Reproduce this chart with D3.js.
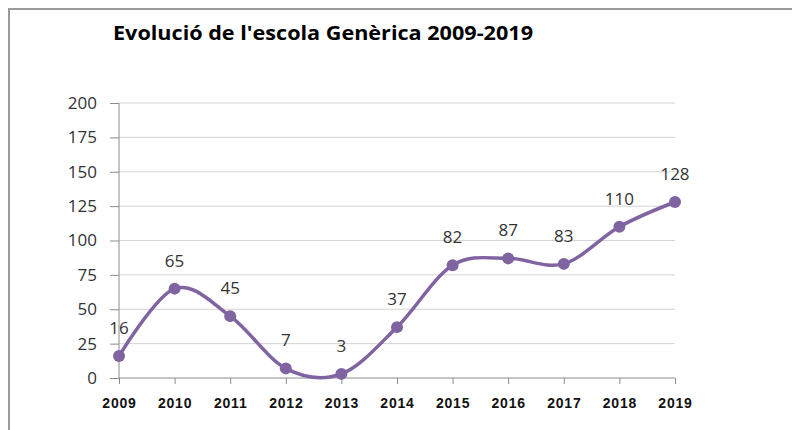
<!DOCTYPE html>
<html>
<head>
<meta charset="utf-8">
<script src="https://cdn.jsdelivr.net/npm/d3@7"></script>
<style>
  html, body { margin: 0; padding: 0; background: #fff; }
  svg { display: block; }
</style>
</head>
<body>
<div id="chart"></div>
<script>
const years = ['2009', '2010', '2011', '2012', '2013', '2014', '2015', '2016', '2017', '2018', '2019'];
const values = [16, 65, 45, 7, 3, 37, 82, 87, 83, 110, 128];
const yTicks = [0, 25, 50, 75, 100, 125, 150, 175, 200];
const title = "Evolució de l'escola Genèrica 2009-2019";

const W = 792, H = 430;
const margin = { top: 103, left: 119, right: W - 675, bottom: H - 378 };
const width = W - margin.left - margin.right;
const height = H - margin.top - margin.bottom;
const purple = '#8064a2';

const svg = d3.select('#chart').append('svg')
  .attr('width', W)
  .attr('height', H);

// outer frame (only top and left edges visible)
svg.append('path')
  .attr('d', `M9,${H} L9,9 L${W},9`)
  .attr('fill', 'none')
  .attr('stroke', '#9a9a9a')
  .attr('stroke-width', 2);

svg.append('text')
  .attr('x', 113)
  .attr('y', 40)
  .style('font-family', 'Open Sans, sans-serif')
  .style('font-weight', 'bold')
  .style('font-size', '19px')
  .attr('textLength', 420)
  .attr('lengthAdjust', 'spacingAndGlyphs')
  .style('fill', '#000')
  .text(title);

const g = svg.append('g')
  .attr('transform', `translate(${margin.left},${margin.top})`);

const x = d3.scalePoint().domain(years).range([0, width]);
const y = d3.scaleLinear().domain([0, 200]).range([height, 0]);

// grid lines
g.append('g')
  .selectAll('line')
  .data(yTicks.filter((d) => d > 0))
  .enter()
  .append('line')
  .attr('x1', 0)
  .attr('x2', width)
  .attr('y1', (d) => y(d))
  .attr('y2', (d) => y(d))
  .style('stroke', '#d4d4d4')
  .style('stroke-width', 1);

// y axis
const yAxis = g.append('g')
  .call(d3.axisLeft(y).tickValues(yTicks).tickSize(9).tickPadding(13));
yAxis.select('.domain').attr('stroke', '#8c8c8c').attr('d', `M0,0V${height}`);
yAxis.selectAll('.tick line').attr('stroke', '#8c8c8c');
yAxis.selectAll('text')
  .style('font-family', 'Open Sans, sans-serif')
  .style('font-size', '17px')
  .style('fill', '#333');

// x axis
const xAxis = g.append('g')
  .attr('transform', `translate(0,${height})`)
  .call(d3.axisBottom(x).tickSize(6).tickPadding(0));
xAxis.select('.domain').attr('stroke', '#8c8c8c').attr('d', `M0,0H${width}`);
xAxis.selectAll('.tick line').attr('stroke', '#8c8c8c');
xAxis.selectAll('text')
  .attr('dy', null)
  .attr('y', 30)
  .style('font-family', 'Liberation Sans, Arial, sans-serif')
  .style('font-weight', 'bold')
  .style('font-size', '14px')
  .style('letter-spacing', '0.8px')
  .style('fill', '#111');

const data = years.map((yr, i) => ({ year: yr, value: values[i] }));

// smoothed line
const line = d3.line()
  .x((d) => x(d.year))
  .y((d) => y(d.value))
  .curve(d3.curveCardinal.tension(0));

g.append('path')
  .datum(data)
  .attr('fill', 'none')
  .attr('stroke', purple)
  .attr('stroke-width', 3.5)
  .attr('d', line);

g.selectAll('.dot')
  .data(data)
  .enter()
  .append('circle')
  .attr('class', 'dot')
  .attr('cx', (d) => x(d.year))
  .attr('cy', (d) => y(d.value))
  .attr('r', 6)
  .style('fill', purple);

// value labels
g.selectAll('.value-label')
  .data(data)
  .enter()
  .append('text')
  .attr('class', 'value-label')
  .attr('x', (d) => x(d.year))
  .attr('y', (d) => y(d.value) - 22)
  .attr('text-anchor', 'middle')
  .style('font-family', 'Open Sans, sans-serif')
  .style('font-size', '17px')
  .style('fill', '#333')
  .text((d) => d.value);
</script>
</body>
</html>
